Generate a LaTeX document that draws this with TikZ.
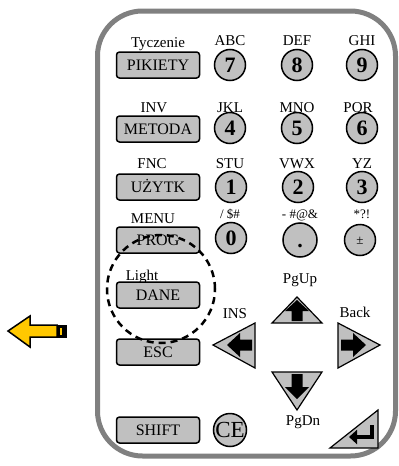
\documentclass[tikz,border=0pt]{standalone}
\usepackage{fontspec}
\setmainfont{Liberation Serif}
\usetikzlibrary{arrows.meta}

\definecolor{keygray}{RGB}{192,192,192}
\definecolor{panelgray}{RGB}{128,128,128}
\definecolor{hintyellow}{RGB}{255,200,0}

\tikzset{
  keybox/.style={draw,line width=1.5pt,fill=keygray,rounded corners=3pt,
    minimum width=83pt,minimum height=26pt,inner sep=0pt,
    text height=11pt,text depth=0pt,font=\fontsize{16}{16}\selectfont},
  numkey/.style={circle,draw,line width=1.5pt,fill=keygray,minimum size=31pt,
    inner sep=0pt,text height=15pt,text depth=0pt,
    font=\fontsize{22}{22}\selectfont\bfseries},
  keylabel/.style={inner sep=0pt,text height=10pt,text depth=0pt,
    font=\fontsize{15}{15}\selectfont},
  symlabel/.style={keylabel,font=\fontsize{13}{13}\selectfont},
  arrowkey/.style={draw,line width=1.2pt,fill=keygray,line join=miter},
}

\begin{document}
\begin{tikzpicture}[x=1pt,y=-1pt]
\useasboundingbox (0,0) rectangle (399,466);

% Construct keypad body
\draw[panelgray,line width=5pt,rounded corners=45pt,fill=white] (97.5,11) rectangle (395.5,456);

% Hint arrow on the left
\draw[line width=1.5pt,fill=hintyellow,line join=miter]
  (8,331) -- (30,316) -- (30,325) -- (57,325) -- (57,337) -- (30,337) -- (30,347) -- cycle;
\draw[line width=1pt,fill=black] (57,325) rectangle (66,337);
\draw[fill=hintyellow,draw=none] (59.5,327.5) rectangle (62,334.5);

% First row
\node[keylabel] (tyc) at (158,42) {Tyczenie};
\node[keybox] (pik) at (158,65) {PIKIETY};
\node[keylabel] (abc) at (230,40) {ABC};
\node[numkey] (k7) at (230,65) {7};
\node[keylabel] (def) at (297,40) {DEF};
\node[numkey] (k8) at (297,65) {8};
\node[keylabel] (ghi) at (362,40) {GHI};
\node[numkey] (k9) at (362,65) {9};

% Second row
\node[keylabel] (inv) at (154,107) {INV};
\node[keybox] (met) at (158,129) {METODA};
\node[keylabel] (jkl) at (230,107) {JKL};
\node[numkey] (k4) at (230,128) {4};
\node[keylabel] (mno) at (297,107) {MNO};
\node[numkey] (k5) at (297,128) {5};
\node[keylabel] (pqr) at (358,107) {PQR};
\node[numkey] (k6) at (362,128) {6};

% Third row
\node[keylabel] (fnc) at (152,163) {FNC};
\node[keybox] (uzy) at (158,187) {UŻYTK};
\node[keylabel] (stu) at (230,163) {STU};
\node[numkey] (k1) at (231,187) {1};
\node[keylabel] (vwx) at (297,163) {VWX};
\node[numkey] (k2) at (298,187) {2};
\node[keylabel] (yz) at (362,163) {YZ};
\node[numkey] (k3) at (362,187) {3};

% Fourth row
\node[keylabel] (menu) at (153,218) {MENU};
\node[keybox] (prog) at (158,240) {PROG};
\node[symlabel] (sym0) at (230,213) {/ \$\#};
\node[numkey] (k0) at (231,238) {0};
\node[symlabel] (symdot) at (300,213) {- \#@\&};
\node[numkey,minimum size=34pt] (kdot) at (300,240) {.};
\node[symlabel] (sympm) at (362,213) {*?!};
\node[numkey,font=\fontsize{13}{13}\selectfont,text height=9pt] (kpm) at (360,240) {±};

% Left column of keys
\node[keylabel] (light) at (142,275) {Light};
\node[keybox] (dane) at (158,295) {DANE};
\node[keybox] (esc) at (158,352) {ESC};
\node[keybox] (shift) at (158,430) {SHIFT};
\node[numkey,minimum size=33pt,font=\fontsize{23}{23}\selectfont,text height=15pt] (ce) at (230,430) {CE};

% Highlight round DANE
\draw[line width=2.5pt,dash pattern=on 7pt off 5pt] (161,289) circle (54pt);

% Cursor keys
\draw[arrowkey] (297,297) -- (322,323) -- (272,323) -- cycle;
\fill (297,300) -- (309,311) -- (302.5,311) -- (302.5,321) -- (291.5,321) -- (291.5,311) -- (285,311) -- cycle;
\draw[arrowkey] (213,345) -- (255,323) -- (255,368) -- cycle;
\fill (227,345) -- (240,333) -- (240,339.5) -- (252,339.5) -- (252,350.5) -- (240,350.5) -- (240,357) -- cycle;
\draw[arrowkey] (380,345) -- (338,323) -- (338,368) -- cycle;
\fill (366,345) -- (353,333) -- (353,339.5) -- (341,339.5) -- (341,350.5) -- (353,350.5) -- (353,357) -- cycle;
\draw[arrowkey] (297,410) -- (322,372) -- (272,372) -- cycle;
\fill (297,399) -- (309,387) -- (302.5,387) -- (302.5,374) -- (291.5,374) -- (291.5,387) -- (285,387) -- cycle;

\node[keylabel] (pgup) at (300,278) {PgUp};
\node[keylabel] (ins) at (235,313) {INS};
\node[keylabel] (back) at (355,312) {Back};
\node[keylabel] (pgdn) at (303,420) {PgDn};

% Enter key
\draw[arrowkey] (330,448) -- (378,448) -- (378,410) -- cycle;
\coordinate (enttop) at (372,425);
\coordinate (entend) at (349,437);
\draw[line width=4pt,-{Triangle[length=8pt,width=14pt]}] (enttop) |- (entend);

\end{tikzpicture}
\end{document}
